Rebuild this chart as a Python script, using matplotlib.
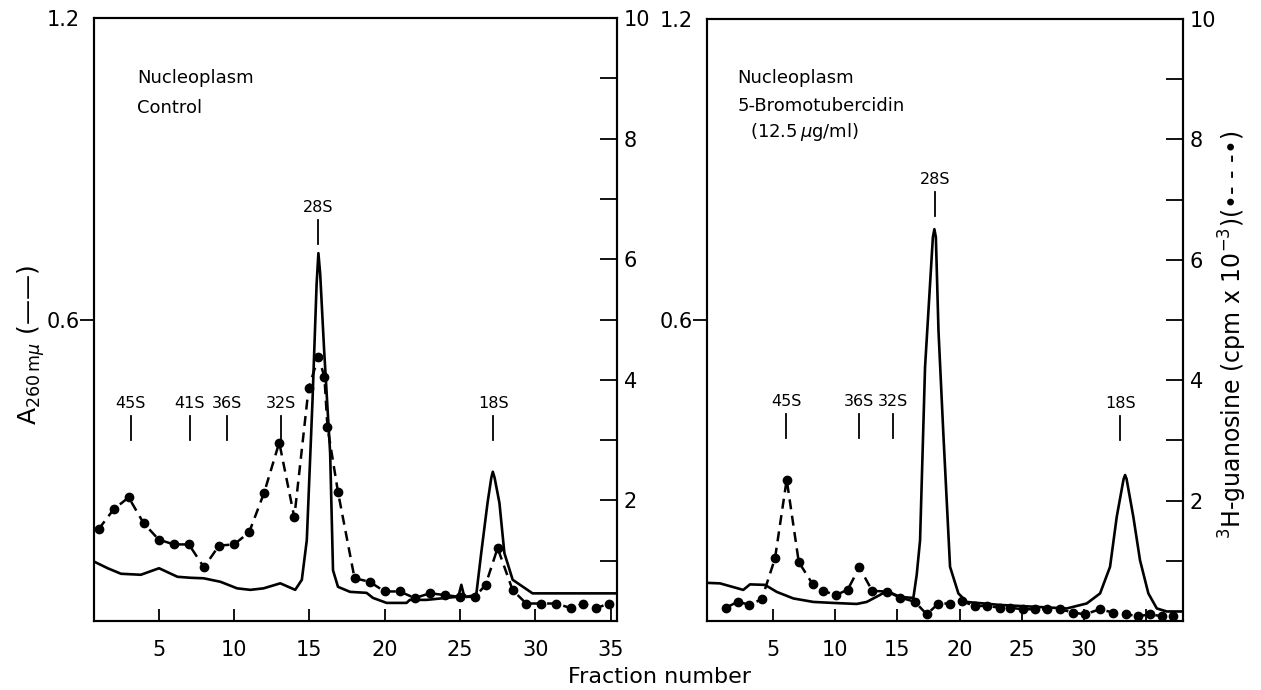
import matplotlib
matplotlib.use("Agg")
import matplotlib.pyplot as plt

plt.rcParams['font.family'] = ['DejaVu Sans']

# ---------------- Control panel data ----------------
ctrl_a260_frac = [0.72, 1.61, 2.49, 3.81, 5.02, 6.24, 7.12, 7.98, 9.10, 10.2, 11.08, 11.96,
                  13.07, 14.06, 14.5, 14.83, 15.21, 15.48, 15.6, 15.72, 15.98, 16.38, 16.57, 16.9, 17.7,
                  18.8, 19.22, 20.13, 21.45, 21.67, 22.77, 24.76, 24.94, 25.09, 25.24, 25.42,
                  26.08, 26.41, 26.83, 27.08, 27.18, 27.3, 27.62, 27.95, 28.5, 29.82, 35.3]
ctrl_a260 = [0.118, 0.105, 0.094, 0.092, 0.105, 0.088, 0.086, 0.085, 0.078, 0.065, 0.062, 0.065,
             0.075, 0.062, 0.082, 0.161, 0.44, 0.67, 0.732, 0.69, 0.539, 0.334, 0.101, 0.068, 0.058,
             0.056, 0.046, 0.036, 0.036, 0.042, 0.042, 0.048, 0.054, 0.072, 0.054, 0.048,
             0.052, 0.135, 0.235, 0.285, 0.297, 0.285, 0.235, 0.135, 0.082, 0.055, 0.055]
ctrl_cpm_frac = [1, 2, 3, 4, 5, 6, 7, 8, 9, 10, 11, 12, 13, 14, 14.95, 15.6, 16.0, 16.2,
                 16.9, 18.0, 19.0, 20.0, 21.0, 22.0, 23.0, 24.0, 25.0, 26.0, 26.7, 27.5,
                 28.5, 29.4, 30.4, 31.4, 32.4, 33.2, 34.0, 34.9]
ctrl_cpm = [1.52, 1.85, 2.05, 1.62, 1.35, 1.27, 1.27, 0.89, 1.25, 1.27, 1.47, 2.13, 2.96, 1.72,
            3.86, 4.38, 4.05, 3.22, 2.14, 0.71, 0.65, 0.49, 0.49, 0.38, 0.46, 0.43, 0.40,
            0.40, 0.60, 1.21, 0.51, 0.29, 0.29, 0.29, 0.21, 0.29, 0.21, 0.29]

# ---------------- 5-Bromotubercidin panel data ----------------
brom_a260_frac = [-0.28, 0.74, 2.61, 3.15, 4.36, 5.3, 6.63, 8.24, 9.85, 11.73, 12.53, 13.6,
                  14.14, 15.21, 16.28, 16.55, 16.82, 17.22, 17.85, 17.97, 18.09, 18.3, 18.69,
                  19.23, 19.9, 20.57, 23.25, 28.61, 30.22, 31.29, 32.09, 32.63, 33.18, 33.3,
                  33.42, 33.96, 34.5, 35.17, 35.85, 36.65, 37.85]
brom_a260 = [0.076, 0.075, 0.062, 0.073, 0.072, 0.058, 0.045, 0.038, 0.036, 0.034, 0.038, 0.052,
             0.060, 0.048, 0.046, 0.092, 0.161, 0.506, 0.765, 0.781, 0.765, 0.579, 0.374,
             0.108, 0.055, 0.038, 0.032, 0.025, 0.035, 0.055, 0.108, 0.208, 0.283, 0.291,
             0.283, 0.208, 0.121, 0.055, 0.025, 0.019, 0.019]
brom_cpm_frac = [1.22, 2.16, 3.1, 4.09, 5.16, 6.1, 7.07, 8.19, 9.04, 10.06, 11.0, 11.94, 12.98,
                 14.14, 15.2, 16.4, 17.36, 18.29, 19.2, 20.17, 21.2, 22.2, 23.25, 24.05, 25.1,
                 26.06, 27.0, 28.07, 29.14, 30.08, 31.25, 32.35, 33.4, 34.37, 35.3, 36.25, 37.18]
brom_cpm = [0.22, 0.32, 0.27, 0.36, 1.04, 2.35, 0.98, 0.61, 0.50, 0.43, 0.52, 0.89, 0.50,
            0.49, 0.39, 0.32, 0.11, 0.29, 0.29, 0.33, 0.25, 0.25, 0.22, 0.22, 0.195,
            0.195, 0.195, 0.195, 0.14, 0.11, 0.195, 0.14, 0.11, 0.08, 0.11, 0.08, 0.08]

# ---------------- sedimentation markers ----------------
ctrl_mark_labels = ["45S", "41S", "36S", "32S", "28S", "18S"]
ctrl_mark_frac = [3.15, 7.05, 9.5, 13.1, 15.6, 27.2]
ctrl_mark_base = [0.36, 0.36, 0.36, 0.36, 0.75, 0.36]

brom_mark_labels = ["45S", "36S", "32S", "28S", "18S"]
brom_mark_frac = [6.05, 11.9, 14.65, 18.0, 32.9]
brom_mark_base = [0.364, 0.364, 0.364, 0.808, 0.36]

ctrl_title = ["Nucleoplasm", "Control"]
brom_title = ["Nucleoplasm", "5-Bromotubercidin", "(12.5$\\,\\mu$g/ml)"]

x_ticks = [5, 10, 15, 20, 25, 30, 35]
left_ticks = [0.6, 1.2]
right_major = [2, 4, 6, 8, 10]
right_minor = [1, 3, 5, 7, 9]

W, H = 1261, 690
fig = plt.figure(figsize=(W / 100, H / 100), dpi=100)

TICK_FS = 15
LW_SPINE = 1.5


def make_panel(rect, xlim, a_frac, a_val, c_frac, c_val, mfrac, mlab, mbase, titles, title_pos):
    ax = fig.add_axes(rect)
    ax2 = ax.twinx()
    ax.set_xlim(*xlim)
    ax.set_ylim(0, 1.2)
    ax2.set_ylim(0, 10)
    ax.plot(a_frac, a_val, color='black', lw=1.9, solid_joinstyle='round', zorder=3)
    ax2.plot(c_frac, c_val, color='black', lw=1.8, linestyle=(0, (4, 2.6)),
             marker='o', markersize=6, zorder=3)
    for s in ax.spines.values():
        s.set_linewidth(LW_SPINE)
    for s in ax2.spines.values():
        s.set_linewidth(LW_SPINE)
    ax.set_xticks(x_ticks)
    ax.set_xticklabels([str(t) for t in x_ticks], fontsize=TICK_FS)
    ax.tick_params(axis='x', direction='in', length=9, width=1.3, pad=14)
    ax.set_yticks(left_ticks)
    ax.set_yticklabels(["0.6", "1.2"], fontsize=TICK_FS)
    ax.tick_params(axis='y', direction='out', length=10, width=1.3, pad=0)
    ax.yaxis.get_major_ticks()[1].tick1line.set_visible(False)
    ax2.set_yticks(right_major)
    ax2.set_yticklabels([str(t) for t in right_major], fontsize=TICK_FS)
    ax2.set_yticks(right_minor, minor=True)
    ax2.tick_params(axis='y', which='both', direction='in', length=12, width=1.3, pad=5)
    for f, lab, b in zip(mfrac, mlab, mbase):
        ax.plot([f, f], [b, b + 0.048], color='black', lw=1.3)
        ax.text(f, b + 0.058, lab, ha='center', va='bottom', fontsize=11.5)
    for (tx, ty), t in zip(title_pos, titles):
        ax.text(tx, ty, t, transform=ax.transAxes, ha='left', va='center', fontsize=13)
    return ax, ax2


axL, axL2 = make_panel([94 / W, 69 / H, (616.6 - 94) / W, 603 / H], (0.7, 35.4),
                       ctrl_a260_frac, ctrl_a260, ctrl_cpm_frac, ctrl_cpm,
                       ctrl_mark_frac, ctrl_mark_labels, ctrl_mark_base,
                       ctrl_title, [(0.082, 0.90), (0.082, 0.851)])
axR, axR2 = make_panel([706.7 / W, 69 / H, (1182.7 - 706.7) / W, 602 / H], (-0.33, 37.93),
                       brom_a260_frac, brom_a260, brom_cpm_frac, brom_cpm,
                       brom_mark_frac, brom_mark_labels, brom_mark_base,
                       brom_title, [(0.064, 0.902), (0.064, 0.855), (0.091, 0.813)])

fig.text(659 / W, 1 - 677 / H, "Fraction number", ha='center', va='center', fontsize=16)
fig.text(31 / W, 1 - 345 / H, r"A$_{260\,\mathrm{m}\mu}$ (——)", rotation=90,
         ha='center', va='center', fontsize=18)
fig.text(1233 / W, 1 - 335 / H, r"$^{3}$H-guanosine (cpm x 10$^{-3}$)(•- - -•)",
         rotation=90, ha='center', va='center', fontsize=17)

fig.savefig("out.png", dpi=100)
